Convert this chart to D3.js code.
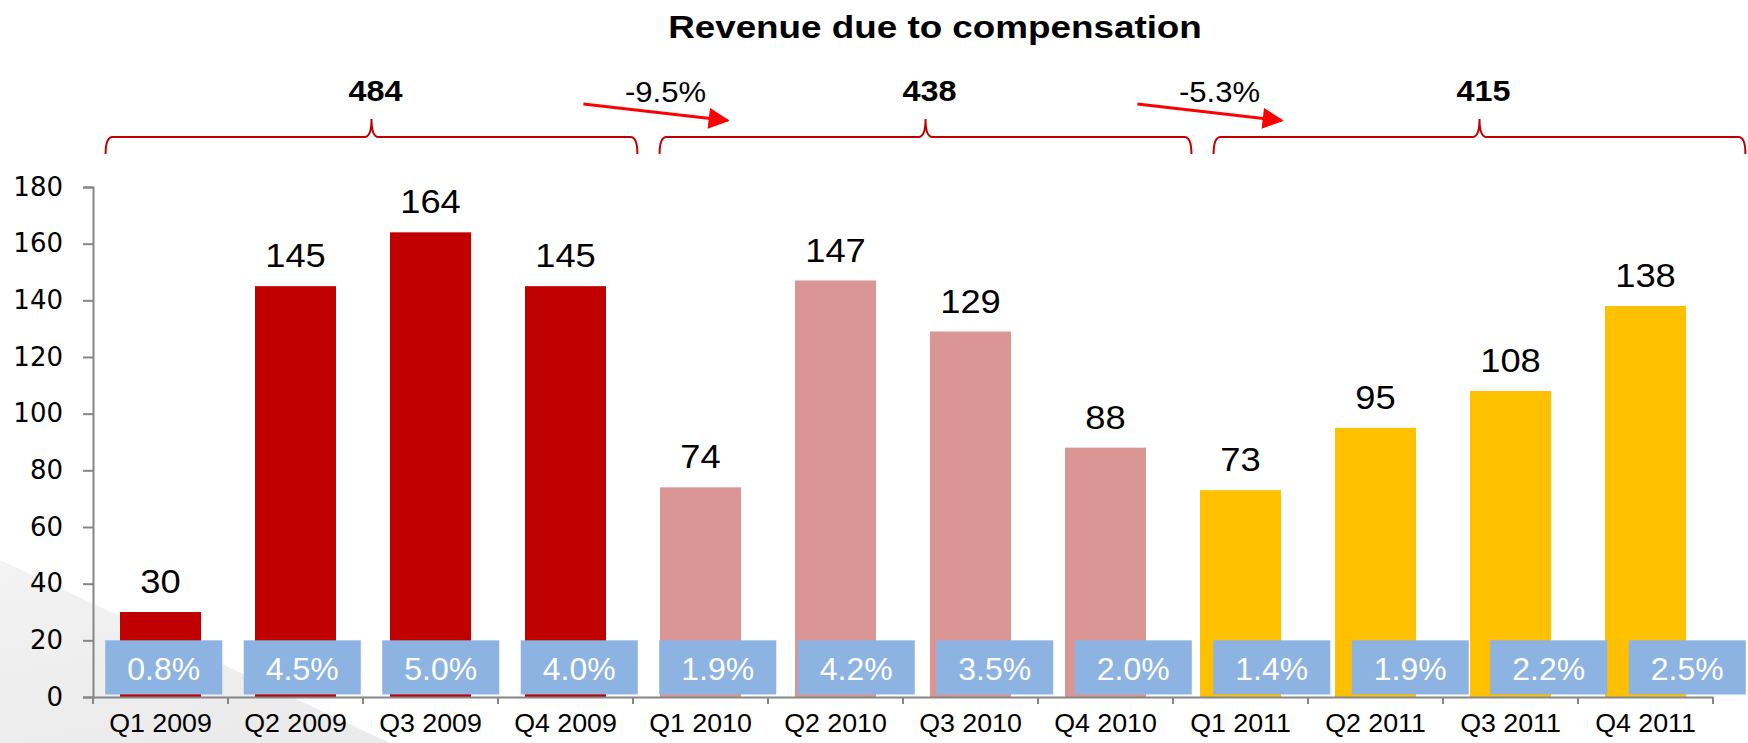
<!DOCTYPE html>
<html>
<head>
<meta charset="utf-8">
<script src="https://cdn.jsdelivr.net/npm/d3@7"></script>
<style>
  body { margin: 0; background: #fff; }
  text { font-family: "Liberation Sans", Arial, sans-serif; }
</style>
</head>
<body>
<div id="chart"></div>
<script>
// data
var quarters = ["Q1 2009", "Q2 2009", "Q3 2009", "Q4 2009",
                "Q1 2010", "Q2 2010", "Q3 2010", "Q4 2010",
                "Q1 2011", "Q2 2011", "Q3 2011", "Q4 2011"];
var revenue = [30, 145, 164, 145, 74, 147, 129, 88, 73, 95, 108, 138];
var shareLabels = ["0.8%", "4.5%", "5.0%", "4.0%", "1.9%", "4.2%", "3.5%", "2.0%", "1.4%", "1.9%", "2.2%", "2.5%"];
var years = ["2009", "2010", "2011"];
var yearTotals = [484, 438, 415];
var yearChanges = ["-9.5%", "-5.3%"];
var yTicks = [0, 20, 40, 60, 80, 100, 120, 140, 160, 180];

var yearColor = d3.scaleOrdinal()
    .domain(years)
    .range(["#c00000", "#d99694", "#ffc000"]);

var W = 1748, H = 743;

var svg = d3.select("#chart")
  .append("svg")
    .attr("width", W)
    .attr("height", H);

// the original text is a bit wider than the fonts we have, stretch it
const stretch = (sel, k) => {
    sel.each(function() {
        var len = this.getComputedTextLength();
        d3.select(this)
            .attr("textLength", len * k)
            .attr("lengthAdjust", "spacingAndGlyphs");
    });
};

// faint grey wedge in the lower left corner
var defs = svg.append("defs");
var grad = defs.append("linearGradient")
    .attr("id", "wedge")
    .attr("x1", "0").attr("y1", "0").attr("x2", "0.4").attr("y2", "1");
grad.append("stop").attr("offset", "0").attr("stop-color", "#f3f3f3");
grad.append("stop").attr("offset", "1").attr("stop-color", "#ebebeb");
svg.append("path")
    .attr("d", "M0,560 L390,743 L0,743 Z")
    .attr("fill", "url(#wedge)");

var x = d3.scaleBand()
    .domain(quarters)
    .range([93, 1713])
    .paddingInner(0.4)
    .paddingOuter(0.2);

// the percentage boxes sit on a slightly wider grid than the bars
var xBox = d3.scaleBand()
    .domain(quarters)
    .range([94.5, 1756.5])
    .paddingInner(0.155)
    .paddingOuter(0.0775);

var pos = d3.scaleLinear()
    .domain([0, quarters.length])
    .range([94.5, 1756.5]);

var y = d3.scaleLinear()
    .domain([0, 180])
    .range([697, 187]);

// title
svg.append("text")
    .attr("x", 935)
    .attr("y", 38)
    .attr("text-anchor", "middle")
    .style("font-size", "32px")
    .style("font-weight", "bold")
    .text("Revenue due to compensation")
    .call(stretch, 1.15);

// bars
svg.selectAll("rect.bar")
    .data(revenue)
    .enter()
    .append("rect")
    .attr("class", "bar")
    .attr("x", (d, i) => x(quarters[i]))
    .attr("y", d => y(d))
    .attr("width", x.bandwidth())
    .attr("height", d => y(0) - y(d))
    .attr("fill", (d, i) => yearColor(quarters[i].slice(3)));

// value labels
svg.selectAll("text.val")
    .data(revenue)
    .enter()
    .append("text")
    .attr("class", "val")
    .attr("x", (d, i) => x(quarters[i]) + x.bandwidth() / 2)
    .attr("y", d => y(d) - 19)
    .attr("text-anchor", "middle")
    .style("font-size", "33px")
    .text(d => d)
    .call(stretch, 1.1);

// percentage boxes
svg.selectAll("rect.share")
    .data(shareLabels)
    .enter()
    .append("rect")
    .attr("class", "share")
    .attr("x", (d, i) => xBox(quarters[i]))
    .attr("y", y(20))
    .attr("width", xBox.bandwidth())
    .attr("height", y(0.9) - y(20))
    .attr("fill", "#8db3e2");

svg.selectAll("text.share")
    .data(shareLabels)
    .enter()
    .append("text")
    .attr("class", "share")
    .attr("x", (d, i) => xBox(quarters[i]) + xBox.bandwidth() / 2)
    .attr("y", 680)
    .attr("text-anchor", "middle")
    .attr("fill", "#fff")
    .style("font-size", "31px")
    .text(d => d)
    .call(stretch, 1.03);

// y axis
var yAxis = svg.append("g")
    .attr("transform", "translate(93,0)")
    .call(d3.axisLeft(y).tickValues(yTicks).tickSize(10).tickPadding(20));
yAxis.select(".domain").attr("stroke", "#868686").attr("stroke-width", 2);
yAxis.selectAll(".tick line").attr("stroke", "#868686").attr("stroke-width", 2);
yAxis.selectAll("text")
    .style("font-family", "'DejaVu Sans', Verdana, sans-serif")
    .style("font-size", "26px")
    .attr("fill", "#000");

// x axis, ticks between categories
var xAxis = svg.append("g")
    .attr("transform", "translate(0," + y(0) + ")")
    .call(d3.axisBottom(x).tickSize(0).tickPadding(30));
xAxis.select(".domain").attr("stroke", "#868686").attr("stroke-width", 2);
xAxis.selectAll("text")
    .style("font-size", "26px")
    .attr("fill", "#000")
    .attr("dy", "0.71em")
    .attr("y", 17)
    .call(stretch, 1.03);
xAxis.selectAll("line.sep")
    .data(d3.range(quarters.length + 1))
    .enter()
    .append("line")
    .attr("class", "sep")
    .attr("x1", i => 93 + i * x.step())
    .attr("x2", i => 93 + i * x.step())
    .attr("y1", 0)
    .attr("y2", 7)
    .attr("stroke", "#868686")
    .attr("stroke-width", 2);

// year brackets with totals
var bracket = (x0, x1, xm) => {
    var top = 137, bot = 154, peak = 119, r = 7;
    return "M" + x0 + "," + bot +
        " Q" + x0 + "," + top + " " + (x0 + r) + "," + top +
        " L" + (xm - r) + "," + top +
        " Q" + xm + "," + top + " " + xm + "," + peak +
        " Q" + xm + "," + top + " " + (xm + r) + "," + top +
        " L" + (x1 - r) + "," + top +
        " Q" + x1 + "," + top + " " + x1 + "," + bot;
};

years.forEach((yr, g) => {
    var x0 = pos(g * 4 + 0.08), x1 = pos(g * 4 + 3.92), xm = pos(g * 4 + 2);
    svg.append("path")
        .attr("d", bracket(x0, x1, xm))
        .attr("fill", "none")
        .attr("stroke", "#c00000")
        .attr("stroke-width", 2);
    svg.append("text")
        .attr("x", xm + 4)
        .attr("y", 101)
        .attr("text-anchor", "middle")
        .style("font-size", "30px")
        .style("font-weight", "bold")
        .text(yearTotals[g])
        .call(stretch, 1.08);
});

// change arrows
defs.append("marker")
    .attr("id", "head")
    .attr("viewBox", "0 0 10 10")
    .attr("refX", 9).attr("refY", 5)
    .attr("markerWidth", 8).attr("markerHeight", 7)
    .attr("markerUnits", "strokeWidth")
    .attr("orient", "auto")
  .append("path")
    .attr("d", "M0,0 L10,5 L0,10 Z")
    .attr("fill", "#ff0000");

yearChanges.forEach((c, k) => {
    var b = (k + 1) * 4;
    var ax0 = pos(b - 0.47), ax1 = pos(b + 0.6);
    svg.append("line")
        .attr("x1", ax0).attr("y1", 104)
        .attr("x2", ax1 - 4).attr("y2", 120.5)
        .attr("stroke", "#ff0000")
        .attr("stroke-width", 3)
        .attr("marker-end", "url(#head)");
    svg.append("text")
        .attr("x", (ax0 + ax1) / 2 + 8)
        .attr("y", 102)
        .attr("text-anchor", "middle")
        .style("font-size", "29px")
        .text(c)
        .call(stretch, 1.07);
});
</script>
</body>
</html>
